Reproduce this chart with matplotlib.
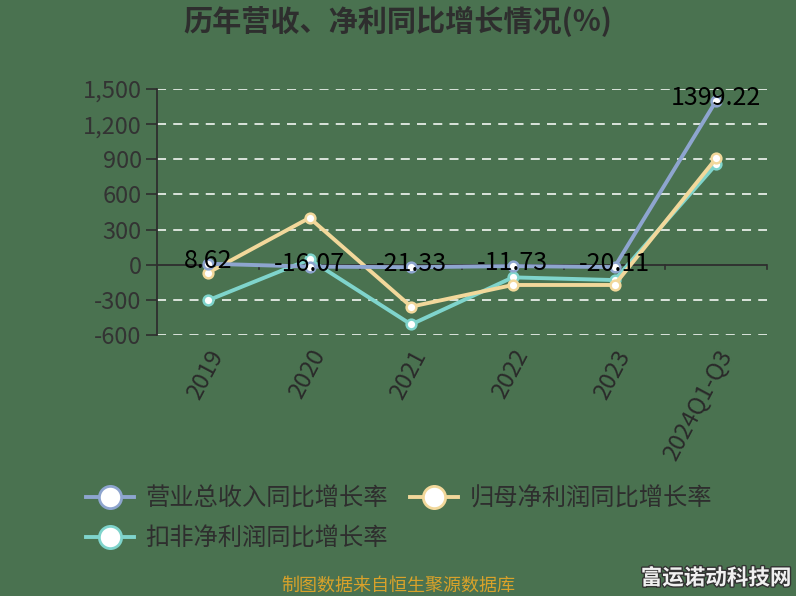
import matplotlib
matplotlib.use("Agg")
import matplotlib.pyplot as plt
from matplotlib.lines import Line2D
import matplotlib.patheffects as pe

plt.rcParams['font.family'] = ['Noto Sans CJK SC', 'DejaVu Sans']

categories = ["2019", "2020", "2021", "2022", "2023", "2024Q1-Q3"]
revenue_growth = [8.62, -16.07, -21.33, -11.73, -20.11, 1399.22]
netprofit_growth = [-70, 400, -358, -173, -173, 908]
deducted_growth = [-305, 45, -510, -108, -131, 857]
series_names = ["营业总收入同比增长率", "归母净利润同比增长率", "扣非净利润同比增长率"]
yticks = [-600, -300, 0, 300, 600, 900, 1200, 1500]
ytick_labels = ["-600", "-300", "0", "300", "600", "900", "1,200", "1,500"]

bg = "#4a7250"
c_blue = "#8ea5cf"
c_yellow = "#f2d89b"
c_cyan = "#7fd4cc"
axis_col = "#2e2e2e"
text_col = "#333333"

fig = plt.figure(figsize=(7.96, 5.96), dpi=100, facecolor=bg)
ax = fig.add_axes([157/796, 1-335/596, 610/796, 246/596])
ax.set_facecolor(bg)

x = list(range(len(categories)))
ax.set_xlim(-0.5, len(categories) - 0.5)
ax.set_ylim(-600, 1500)

# grid
for yv in yticks:
    if yv != 0:
        ax.axhline(yv, color="#e6ece6", lw=1.3, ls=(0, (5, 4)), zorder=1)
ax.axhline(0, color=axis_col, lw=1.3, zorder=2)
for b in [i + 0.5 for i in x]:
    ax.plot([b, b], [0, -35], color=axis_col, lw=1.2, zorder=2, clip_on=False)

for sp in ["top", "right", "bottom"]:
    ax.spines[sp].set_visible(False)
ax.spines["left"].set_color(axis_col)
ax.spines["left"].set_linewidth(1.3)

ax.set_yticks(yticks)
ax.set_yticklabels(ytick_labels, fontsize=17, color=text_col)
ax.tick_params(axis="y", length=8, width=1.2, color=axis_col, pad=3)
ax.set_xticks(x)
ax.set_xticklabels(categories, rotation=62, ha="right", va="top",
                   rotation_mode="anchor", fontsize=17, color="#2a2a2a")
ax.tick_params(axis="x", length=0, pad=8)

mk = dict(marker="o", markersize=7, markerfacecolor="white", markeredgewidth=1.8)
ax.plot(x, deducted_growth, color=c_cyan, lw=2.8, markeredgecolor=c_cyan, zorder=3, **mk)
ax.plot(x, netprofit_growth, color=c_yellow, lw=2.8, markeredgecolor=c_yellow, zorder=4, **mk)
ax.plot(x, revenue_growth, color=c_blue, lw=2.8, markeredgecolor=c_blue, zorder=5, **mk)

for xi, v in zip(x, revenue_growth):
    ax.annotate(f"{v:.2f}", (xi, v), xytext=(0, 2), textcoords="offset points",
                ha="center", va="center", fontsize=18, color="black", zorder=6)

# title
fig.text(0.5, 1-22/596, "历年营收、净利同比增长情况(%)", ha="center", va="center",
         fontsize=21, fontweight="bold", color="#2e2e2e")

# legend (column-major fill -> order so rows read: revenue, netprofit / deducted)
def h(c):
    return Line2D([0], [0], color=c, lw=2.8, marker="o", markersize=16,
                  markerfacecolor="white", markeredgecolor=c, markeredgewidth=2)

handles = [h(c_blue), h(c_cyan), h(c_yellow)]
labels = [series_names[0], series_names[2], series_names[1]]
leg = fig.legend(handles, labels, loc="upper left", bbox_to_anchor=(64/796, 1-464/596),
                 ncol=2, frameon=False, fontsize=17.5, handlelength=2.0, handletextpad=0.45,
                 columnspacing=0.9, labelspacing=0.55, labelcolor="#2e2e2e")

fig.text(0.5, 1-586/596, "制图数据来自恒生聚源数据库", ha="center", va="center",
         fontsize=13, color="#d9a22a")
fig.text(716/796, 1-578/596, "富运诺动科技网", ha="center", va="center",
         fontsize=15.5, fontweight="bold", color="#f0f0f0",
         path_effects=[pe.withStroke(linewidth=2, foreground="#333333")])

fig.savefig("out.png", dpi=100, facecolor=bg)
